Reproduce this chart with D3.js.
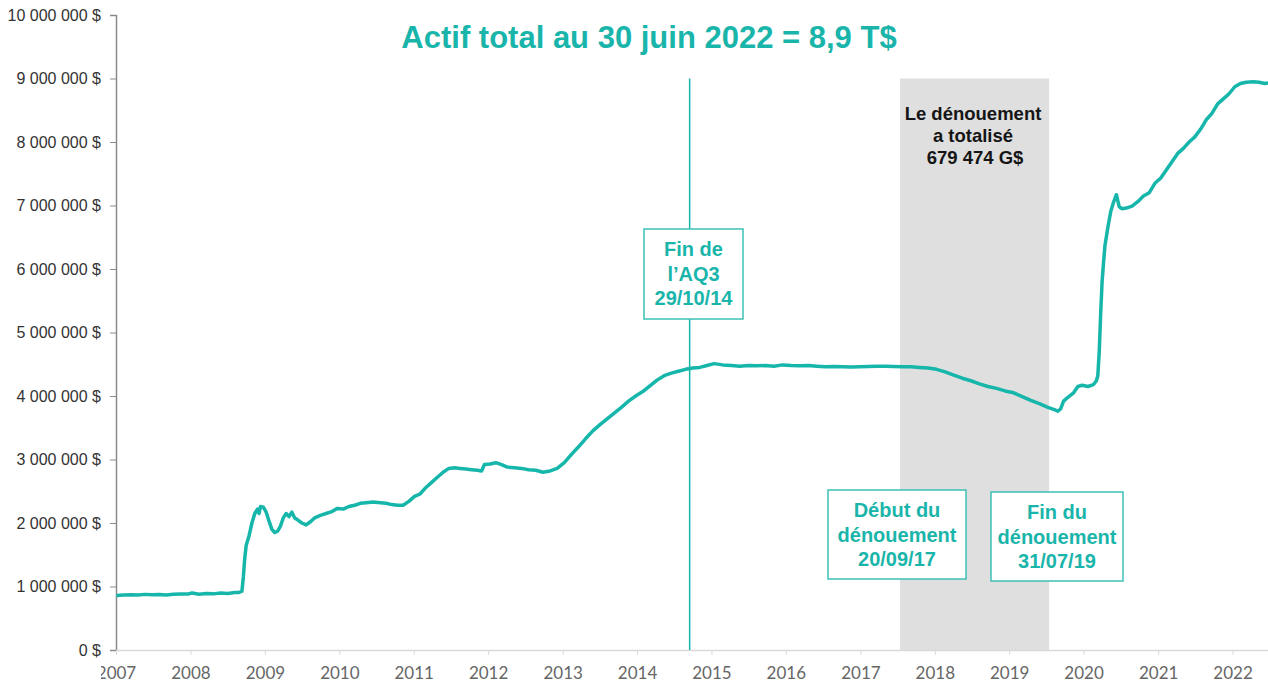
<!DOCTYPE html>
<html>
<head>
<meta charset="utf-8">
<script src="https://cdn.jsdelivr.net/npm/d3@7"></script>
<style>
  body { margin: 0; background: #fff; }
  svg { display: block; }
</style>
</head>
<body>
<div class="chart"></div>
<script>
// data, values in millions of $
var dates = [
  "2007-01-03","2007-02-07","2007-03-14","2007-04-18","2007-05-23","2007-06-27","2007-08-01","2007-09-05","2007-10-10","2007-11-14","2007-12-19",
  "2008-01-09","2008-02-13","2008-03-19","2008-04-23","2008-05-28","2008-07-02","2008-08-06","2008-08-27","2008-09-10","2008-09-17","2008-09-24",
  "2008-10-01","2008-10-15","2008-10-29","2008-11-12","2008-11-26","2008-12-03","2008-12-10","2008-12-24",
  "2009-01-07","2009-01-21","2009-02-04","2009-02-18","2009-03-04","2009-03-18","2009-04-01","2009-04-15","2009-04-29","2009-05-13","2009-05-27",
  "2009-06-10","2009-07-01","2009-07-22","2009-08-12","2009-09-02","2009-09-30","2009-10-28","2009-11-25","2009-12-23",
  "2010-01-20","2010-02-17","2010-03-17","2010-04-14","2010-05-12","2010-06-16","2010-07-21","2010-08-18","2010-09-15","2010-10-13","2010-11-10","2010-12-08",
  "2011-01-05","2011-02-02","2011-03-02","2011-03-30","2011-04-27","2011-05-25","2011-06-22","2011-07-20","2011-08-17","2011-09-14","2011-10-12","2011-11-09","2011-11-30","2011-12-14",
  "2012-01-11","2012-02-08","2012-03-07","2012-04-04","2012-05-09","2012-06-13","2012-07-18","2012-08-22","2012-09-26","2012-10-31","2012-12-05",
  "2013-01-09","2013-02-13","2013-03-20","2013-04-24","2013-05-29","2013-07-03","2013-08-07","2013-09-11","2013-10-16","2013-11-20","2013-12-25",
  "2014-01-29","2014-03-05","2014-04-09","2014-05-14","2014-06-18","2014-07-23","2014-08-27","2014-10-01","2014-11-05","2014-12-10",
  "2015-01-14","2015-02-25","2015-04-08","2015-05-20","2015-07-01","2015-08-12","2015-09-23","2015-11-04","2015-12-16",
  "2016-01-27","2016-03-09","2016-04-20","2016-06-01","2016-07-13","2016-08-24","2016-10-05","2016-11-16","2016-12-28",
  "2017-02-08","2017-03-22","2017-05-03","2017-06-14","2017-07-26","2017-09-06","2017-10-18","2017-11-29",
  "2018-01-10","2018-02-21","2018-04-04","2018-05-16","2018-06-27","2018-08-08","2018-09-19","2018-10-31","2018-12-12",
  "2019-01-23","2019-03-06","2019-04-17","2019-05-29","2019-07-10","2019-08-14","2019-08-28","2019-09-11","2019-09-25","2019-10-16","2019-11-13","2019-12-04","2019-12-25",
  "2020-01-22","2020-02-19","2020-03-04","2020-03-11","2020-03-18","2020-03-25","2020-04-01","2020-04-08","2020-04-15","2020-04-29","2020-05-13","2020-05-27","2020-06-10","2020-06-24",
  "2020-07-08","2020-07-29","2020-08-26","2020-09-23","2020-10-21","2020-11-18","2020-12-16",
  "2021-01-13","2021-02-10","2021-03-10","2021-04-07","2021-05-05","2021-06-02","2021-06-30","2021-07-28","2021-08-25","2021-09-22","2021-10-20","2021-11-17","2021-12-15",
  "2022-01-12","2022-02-09","2022-03-09","2022-04-13","2022-05-11","2022-06-08","2022-06-29"
];
var assets = [
  860000,868000,872000,866000,876000,870000,874000,868000,878000,882000,880000,
  898000,878000,888000,884000,896000,890000,904000,906000,925000,1150000,1450000,
  1650000,1800000,2000000,2150000,2220000,2150000,2260000,2250000,
  2170000,2030000,1900000,1850000,1870000,1950000,2080000,2150000,2100000,2170000,2080000,
  2050000,2000000,1970000,2020000,2080000,2120000,2150000,2180000,2230000,
  2220000,2260000,2280000,2310000,2320000,2330000,2320000,2310000,2290000,2280000,2280000,2340000,
  2420000,2460000,2560000,2640000,2720000,2800000,2860000,2870000,2860000,2850000,2840000,2830000,2820000,2920000,
  2930000,2950000,2920000,2880000,2870000,2860000,2840000,2830000,2800000,2820000,2860000,
  2950000,3080000,3200000,3330000,3450000,3550000,3640000,3730000,3820000,3920000,4000000,
  4070000,4160000,4250000,4320000,4360000,4390000,4420000,4440000,4450000,4480000,
  4510000,4490000,4480000,4470000,4480000,4475000,4480000,4470000,4490000,
  4480000,4475000,4480000,4470000,4460000,4465000,4460000,4455000,4460000,
  4465000,4470000,4470000,4465000,4460000,4460000,4450000,4440000,
  4420000,4380000,4330000,4280000,4240000,4190000,4150000,4120000,4080000,
  4050000,3990000,3930000,3880000,3820000,3780000,3760000,3800000,3920000,3980000,4050000,4150000,4170000,
  4150000,4180000,4240000,4320000,4700000,5300000,5800000,6100000,6370000,6650000,6900000,7050000,7170000,6980000,
  6950000,6960000,6990000,7060000,7150000,7200000,7350000,
  7430000,7560000,7690000,7820000,7900000,8000000,8080000,8200000,8350000,8450000,8600000,8680000,8760000,
  8870000,8920000,8940000,8950000,8940000,8920000,8930000
];
var yTicks = [0, 1000000, 2000000, 3000000, 4000000, 5000000, 6000000, 7000000, 8000000, 9000000, 10000000];
var xYears = [2007, 2008, 2009, 2010, 2011, 2012, 2013, 2014, 2015, 2016, 2017, 2018, 2019, 2020, 2021, 2022];

var titleText = "Actif total au 30 juin 2022 = 8,9 T$";
var qe3End = "2014-09-16";
var unwindStart = "2017-07-14";
var unwindEnd = "2019-07-16";
var unwindTop = 9000000;

var svgWidth = 1268;
var svgHeight = 683;
var teal = "#16b6ab";

var parse = d3.timeParse("%Y-%m-%d");
var series = dates.map(function(d, i) { return { date: parse(d), value: assets[i] }; });

var svg = d3.select(".chart")
  .append("svg")
  .attr("width", svgWidth)
  .attr("height", svgHeight);

var x = d3.scaleTime()
  .domain([new Date(2007, 0, 1), parse("2022-06-29")])
  .range([116, 1269]);

var y = d3.scaleLinear()
  .domain([0, 10000000])
  .range([650, 15]);

// grey band for the unwinding
svg.append("rect")
  .attr("x", x(parse(unwindStart)))
  .attr("y", y(unwindTop))
  .attr("width", x(parse(unwindEnd)) - x(parse(unwindStart)))
  .attr("height", y(0) - y(unwindTop))
  .attr("fill", "#dfdfdf");

// axes
var fmt = function(v) { return d3.format(",")(v).replace(/,/g, " ") + " $"; };

var yAxis = svg.append("g")
  .attr("transform", "translate(116,0)")
  .call(d3.axisLeft(y).tickValues(yTicks).tickFormat(fmt).tickSize(6).tickPadding(9));
yAxis.select(".domain").attr("stroke", "#8a8a8a").attr("stroke-width", 1.5);
yAxis.selectAll(".tick line").attr("stroke", "#8a8a8a");
yAxis.selectAll("text")
  .attr("fill", "#333")
  .style("font-family", "Arial, 'Liberation Sans', sans-serif")
  .style("font-size", "16px");

var xAxis = svg.append("g")
  .attr("transform", "translate(0,650)")
  .call(d3.axisBottom(x)
    .tickValues(xYears.map(function(yr) { return new Date(yr, 0, 1); }))
    .tickFormat(d3.timeFormat("%Y"))
    .tickSize(5).tickSizeOuter(0).tickPadding(12));
xAxis.select(".domain").attr("stroke", "#d9d9d9").attr("stroke-width", 1.5);
xAxis.selectAll(".tick line").attr("stroke", "#d9d9d9");
xAxis.selectAll("text")
  .attr("fill", "#666")
  .style("font-family", "Lato, sans-serif")
  .style("font-size", "17px");

// the left edge of "2007" is cut off in the original
svg.append("rect")
  .attr("x", 80).attr("y", 658).attr("width", 21).attr("height", 25)
  .attr("fill", "#fff");

// end of QE3 line
svg.append("line")
  .attr("x1", x(parse(qe3End))).attr("x2", x(parse(qe3End)))
  .attr("y1", y(unwindTop)).attr("y2", y(0))
  .attr("stroke", teal)
  .attr("stroke-width", 1.5);

// total assets line
var line = d3.line()
  .x(function(d) { return x(d.date); })
  .y(function(d) { return y(d.value); });

svg.append("path")
  .datum(series)
  .attr("d", line)
  .attr("fill", "none")
  .attr("stroke", teal)
  .attr("stroke-width", 3.5)
  .attr("stroke-linejoin", "round");

// title
svg.append("text")
  .attr("x", 649)
  .attr("y", 48)
  .attr("text-anchor", "middle")
  .attr("fill", "#1ab5aa")
  .style("font-family", "Arial, 'Liberation Sans', sans-serif")
  .style("font-weight", "bold")
  .style("font-size", "31px")
  .text(titleText);

// annotation boxes
var boxes = [
  { x: 644, y: 229, w: 99, h: 90, lines: ["Fin de", "l\u2019AQ3", "29/10/14"] },
  { x: 828, y: 490, w: 138, h: 89, lines: ["D\u00e9but du", "d\u00e9nouement", "20/09/17"] },
  { x: 991, y: 492, w: 132, h: 89, lines: ["Fin du", "d\u00e9nouement", "31/07/19"] }
];

boxes.forEach(function(b) {
  var g = svg.append("g");
  g.append("rect")
    .attr("x", b.x).attr("y", b.y)
    .attr("width", b.w).attr("height", b.h)
    .attr("fill", "#fff")
    .attr("stroke", "#3cc0b6")
    .attr("stroke-width", 1.5);
  b.lines.forEach(function(t, i) {
    g.append("text")
      .attr("x", b.x + b.w / 2)
      .attr("y", b.y + 27 + i * 24.5)
      .attr("text-anchor", "middle")
      .attr("fill", "#1ab5aa")
      .style("font-family", "Arial, 'Liberation Sans', sans-serif")
      .style("font-weight", "bold")
      .style("font-size", "20px")
      .text(t);
  });
});

// band note
var note = ["Le d\u00e9nouement", "a totalis\u00e9", "679 474 G$"];
note.forEach(function(t, i) {
  svg.append("text")
    .attr("x", i === 2 ? 975 : 973)
    .attr("y", 120 + i * 22)
    .attr("text-anchor", "middle")
    .attr("fill", "#151515")
    .style("font-family", "Arial, 'Liberation Sans', sans-serif")
    .style("font-weight", "bold")
    .style("font-size", "18.5px")
    .text(t);
});
</script>
</body>
</html>
